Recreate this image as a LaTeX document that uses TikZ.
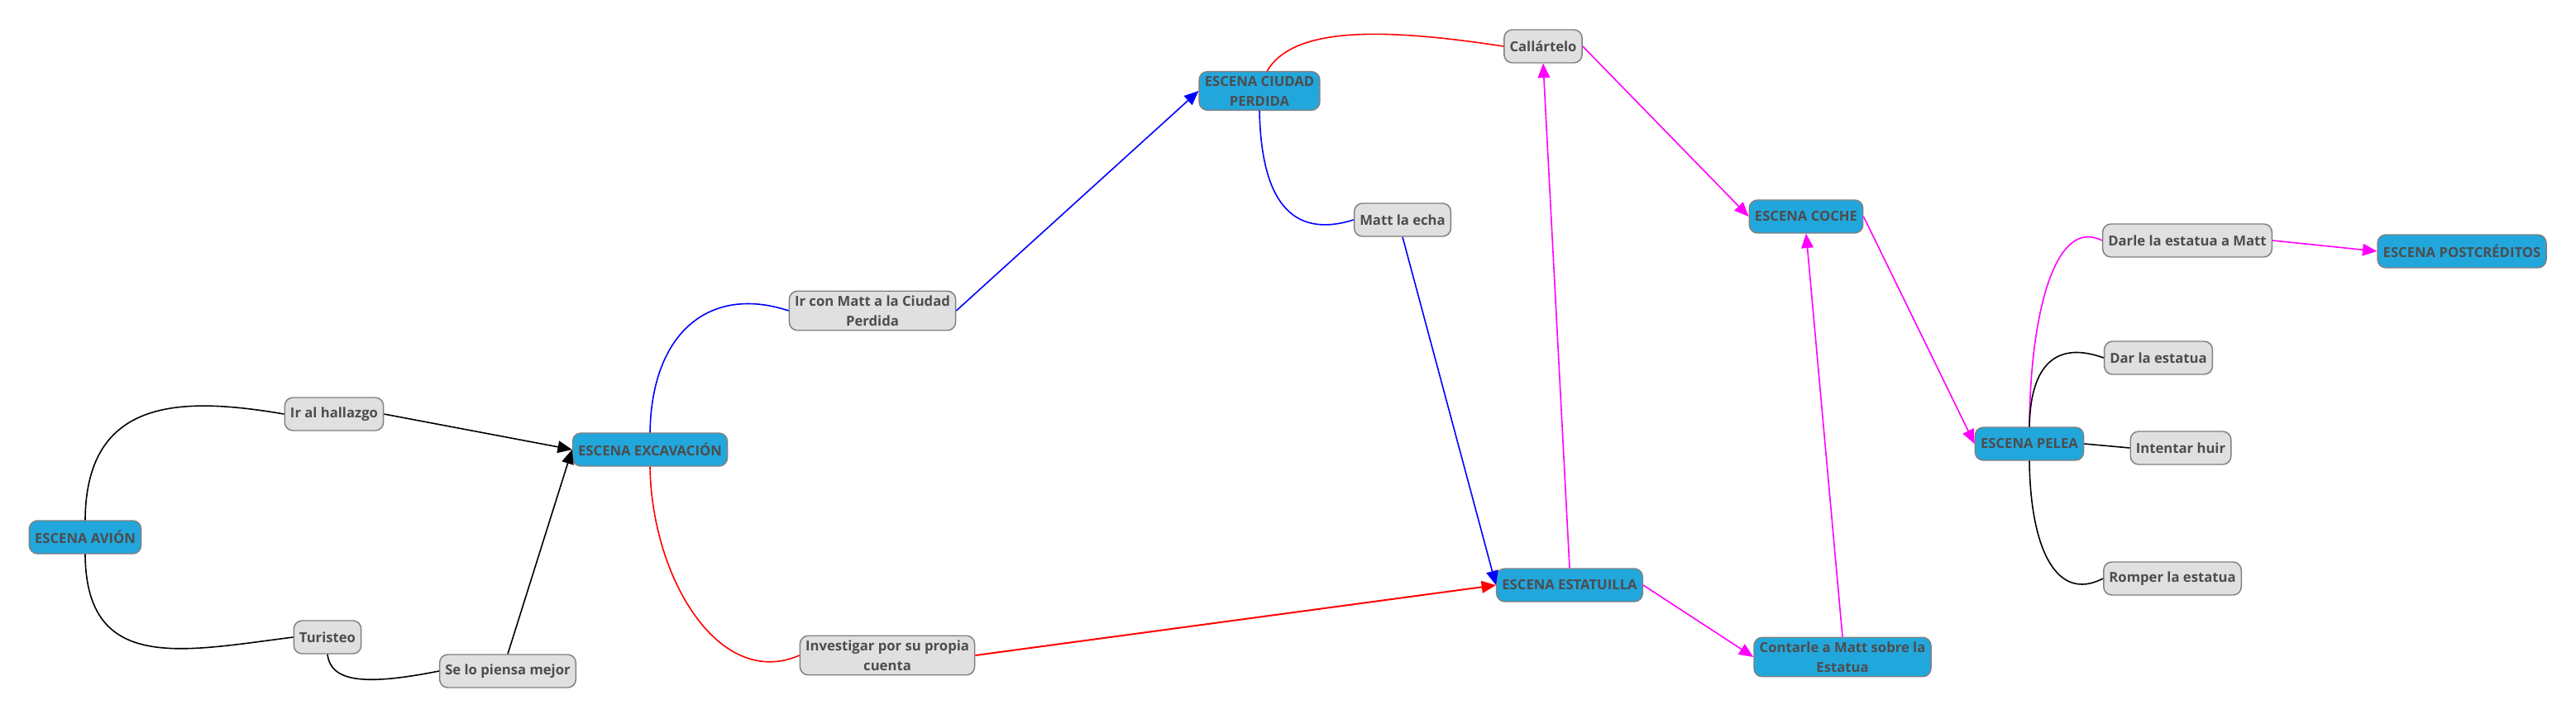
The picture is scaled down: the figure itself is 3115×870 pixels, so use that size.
\documentclass[tikz,border=0pt]{standalone}
\usepackage{fontspec}
\usetikzlibrary{arrows.meta}
\newfontfamily\escenafont{Open Sans}[BoldFont={* Bold}]

\definecolor{escena}{RGB}{34,167,221}
\definecolor{opcion}{RGB}{224,224,224}
\definecolor{borde}{RGB}{128,128,128}
\definecolor{texto}{RGB}{77,77,77}
\definecolor{rosa}{RGB}{255,0,255}
\definecolor{azul}{RGB}{0,0,255}
\definecolor{rojo}{RGB}{255,0,0}

\tikzset{every picture/.style={line width=0.75pt}}
\tikzset{
	caja/.style={draw=borde, line width=1.1pt, rounded corners=7.5pt, text=texto, align=center,
		font=\escenafont\bfseries\fontsize{12.5pt}{18pt}\selectfont,
		minimum height=30pt, inner xsep=5pt, inner ysep=4pt},
	scene/.style={caja, fill=escena},
	choice/.style={caja, fill=opcion},
	enlace/.style={line width=1.2pt},
	flecha/.style={enlace, -{Triangle[length=13pt,width=11pt]}}
}

\begin{document}
\begin{tikzpicture}[x=0.75pt,y=0.75pt,yscale=-1,xscale=1]
	\useasboundingbox (0,0) rectangle (3115,870);

	% Text Node
	\node [scene] (avion) at (103,650) {ESCENA AVIÓN};
	% Text Node
	\node [choice] (hallazgo) at (404,501) {Ir al hallazgo};
	% Text Node
	\node [choice] (turisteo) at (396,771) {Turisteo};
	% Text Node
	\node [choice] (piensa) at (614,812) {Se lo piensa mejor};
	% Text Node
	\node [scene] (excavacion) at (786,544) {ESCENA EXCAVACIÓN};
	% Text Node
	\node [choice] (irmatt) at (1055,376) {Ir con Matt a la Ciudad\\Perdida};
	% Text Node
	\node [choice] (investigar) at (1073,793) {Investigar por su propia\\cuenta};
	% Text Node
	\node [scene] (ciudad) at (1523,110) {ESCENA CIUDAD\\PERDIDA};
	% Text Node
	\node [choice] (callartelo) at (1866,56) {Callártelo};
	% Text Node
	\node [choice] (echa) at (1696,266) {Matt la echa};
	% Text Node
	\node [scene] (estatuilla) at (1898,708) {ESCENA ESTATUILLA};
	% Text Node
	\node [scene] (contarle) at (2228,795) {Contarle a Matt sobre la\\Estatua};
	% Text Node
	\node [scene] (coche) at (2184,262) {ESCENA COCHE};
	% Text Node
	\node [scene] (pelea) at (2454,537) {ESCENA PELEA};
	% Text Node
	\node [choice] (darle) at (2645,291) {Darle la estatua a Matt};
	% Text Node
	\node [choice] (dar) at (2610,433) {Dar la estatua};
	% Text Node
	\node [choice] (huir) at (2637,542) {Intentar huir};
	% Text Node
	\node [choice] (romper) at (2627,700) {Romper la estatua};
	% Text Node
	\node [scene] (post) at (2977,304) {ESCENA POSTCRÉDITOS};

	%Curve Lines
	\draw [enlace] (avion.north) .. controls (104,480) and (220,480) .. (hallazgo.west);
	\draw [enlace] (avion.south) .. controls (104,815) and (220,788) .. (turisteo.west);
	\draw [enlace] (turisteo.south) .. controls (400,825) and (440,830) .. (piensa.west);
	\draw [enlace, azul] (excavacion.north) .. controls (788,400) and (860,345) .. (irmatt.west);
	\draw [enlace, rojo] (excavacion.south) .. controls (788,700) and (870,835) .. (investigar.west);
	\draw [enlace, rojo] (ciudad.69) .. controls (1565,30) and (1680,35) .. (callartelo.west);
	\draw [enlace, azul] (ciudad.south) .. controls (1525,240) and (1560,290) .. (echa.west);
	\draw [enlace, rosa] (pelea.north) .. controls (2455,380) and (2485,262) .. (darle.west);
	\draw [enlace] (pelea.north) .. controls (2455,450) and (2480,410) .. (dar.west);
	\draw [enlace] (pelea.east) -- (huir.west);
	\draw [enlace] (pelea.south) .. controls (2455,660) and (2485,730) .. (romper.west);

	%Straight Lines
	\draw [flecha] (hallazgo.east) -- (excavacion.west);
	\draw [flecha] (piensa.north) -- (excavacion.west);
	\draw [flecha, azul] (irmatt.east) -- (ciudad.west);
	\draw [flecha, azul] (echa.south) -- (estatuilla.west);
	\draw [flecha, rojo, line width=1.5pt] (investigar.east) -- (estatuilla.west);
	\draw [flecha, rosa] (estatuilla.north) -- (callartelo.south);
	\draw [flecha, rosa] (callartelo.east) -- (coche.west);
	\draw [flecha, rosa] (estatuilla.east) -- (contarle.west);
	\draw [flecha, rosa] (contarle.north) -- (coche.south);
	\draw [flecha, rosa] (coche.east) -- (pelea.west);
	\draw [flecha, rosa] (darle.east) -- (post.west);

\end{tikzpicture}
\end{document}
